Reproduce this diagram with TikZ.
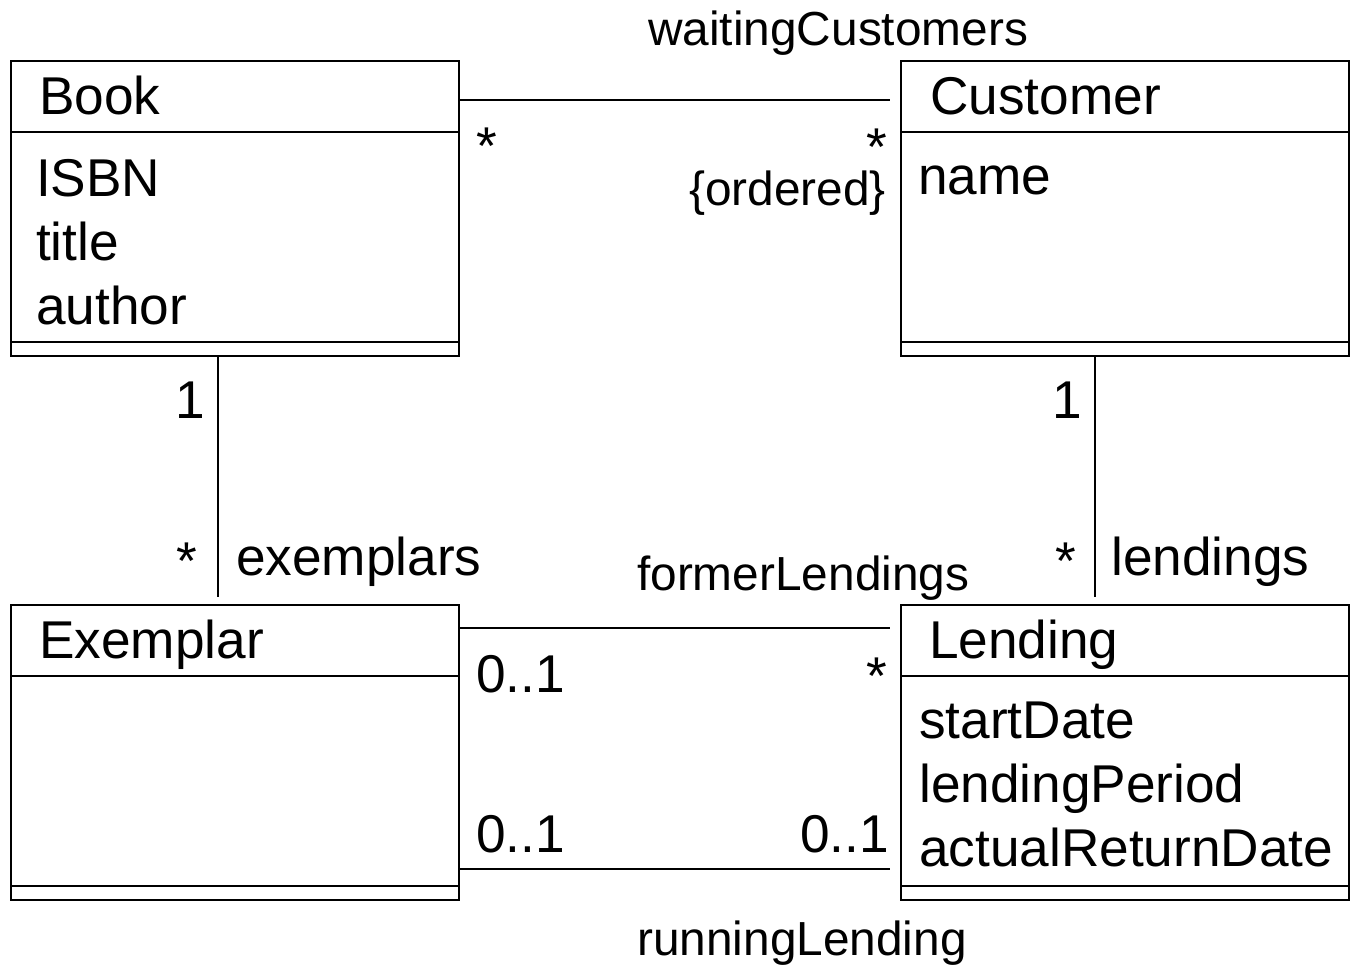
\documentclass[tikz,border=0pt]{standalone}
\usepackage{fontspec}
\setmainfont{Liberation Sans}
\usetikzlibrary{calc}
\tikzset{
  classbox/.style={draw, line width=2pt, rectangle, inner sep=0pt, anchor=north west,
    minimum width=448pt, minimum height=295pt},
  bigtxt/.style={inner sep=0pt, anchor=base west, font=\fontsize{53.2}{60}\selectfont},
  bigtxtr/.style={bigtxt, anchor=base east},
  smalltxt/.style={inner sep=0pt, anchor=base west, font=\fontsize{47.8}{55}\selectfont},
  smalltxtr/.style={smalltxt, anchor=base east},
  assoc/.style={line width=2pt},
  sep/.style={line width=2pt}
}
\begin{document}
\begin{tikzpicture}[x=1pt, y=-1pt]
\useasboundingbox (0,0) rectangle (1354,973);

% class boxes
\node[classbox] (book) at (10,60) {};
\node[classbox] (customer) at (900,60) {};
\node[classbox] (exemplar) at (10,604) {};
\node[classbox] (lending) at (900,604) {};

% compartment separators
\foreach \c in {book,customer,exemplar,lending}{
  \draw[sep] ([yshift=-72pt]\c.north west) -- ([yshift=-72pt]\c.north east);
  \draw[sep] ([yshift=15pt]\c.south west) -- ([yshift=15pt]\c.south east);
}

% class names
\node[bigtxt] (bookname) at (39,115) {Book};
\node[bigtxt] (custname) at (930,115) {Customer};
\node[bigtxt] (exname) at (39,658) {Exemplar};
\node[bigtxt] (lendname) at (929,658) {Lending};

% attributes
\node[bigtxt] (isbn) at (36,197) {ISBN};
\node[bigtxt] (title) at (36,261) {title};
\node[bigtxt] (author) at (36,325) {author};
\node[bigtxt] (cname) at (918,195) {name};
\node[bigtxt] (start) at (919,738) {startDate};
\node[bigtxt] (period) at (919,802) {lendingPeriod};
\node[bigtxt] (retdate) at (919,866) {actualReturnDate};

% associations
\draw[assoc] ([yshift=-40pt]book.north east) -- ([xshift=-10pt,yshift=-40pt]customer.north west);
\draw[assoc] ([xshift=208pt]book.south west) -- ([xshift=208pt,yshift=7pt]exemplar.north west);
\draw[assoc] ([xshift=195pt]customer.south west) -- ([xshift=195pt,yshift=7pt]lending.north west);
\draw[assoc] ([yshift=-24pt]exemplar.north east) -- ([xshift=-10pt,yshift=-24pt]lending.north west);
\draw[assoc] ([yshift=32pt]exemplar.south east) -- ([xshift=-10pt,yshift=32pt]lending.south west);

% role names and constraints
\node[smalltxt] (waiting) at (648,46) {waitingCustomers};
\node[smalltxtr] (ordered) at (886,206) {\{ordered\}};
\node[smalltxt] (former) at (637,590) {formerLendings};
\node[smalltxt] (running) at (637,955) {runningLending};
\node[bigtxt] (exemplars) at (236,575) {exemplars};
\node[bigtxt] (lendings) at (1111,575) {lendings};

% multiplicities
\node[bigtxt] (mwb) at (476,165) {*};
\node[bigtxtr] (mwc) at (887,166) {*};
\node[bigtxt] (mbe1) at (175,418) {1};
\node[bigtxt] (mbe2) at (176,579) {*};
\node[bigtxt] (mcl1) at (1052,418) {1};
\node[bigtxt] (mcl2) at (1055,579) {*};
\node[bigtxt] (mfe) at (476,692) {0..1};
\node[bigtxtr] (mfl) at (887,694) {*};
\node[bigtxt] (mre) at (476,852) {0..1};
\node[bigtxtr] (mrl) at (889,852) {0..1};
\end{tikzpicture}
\end{document}
